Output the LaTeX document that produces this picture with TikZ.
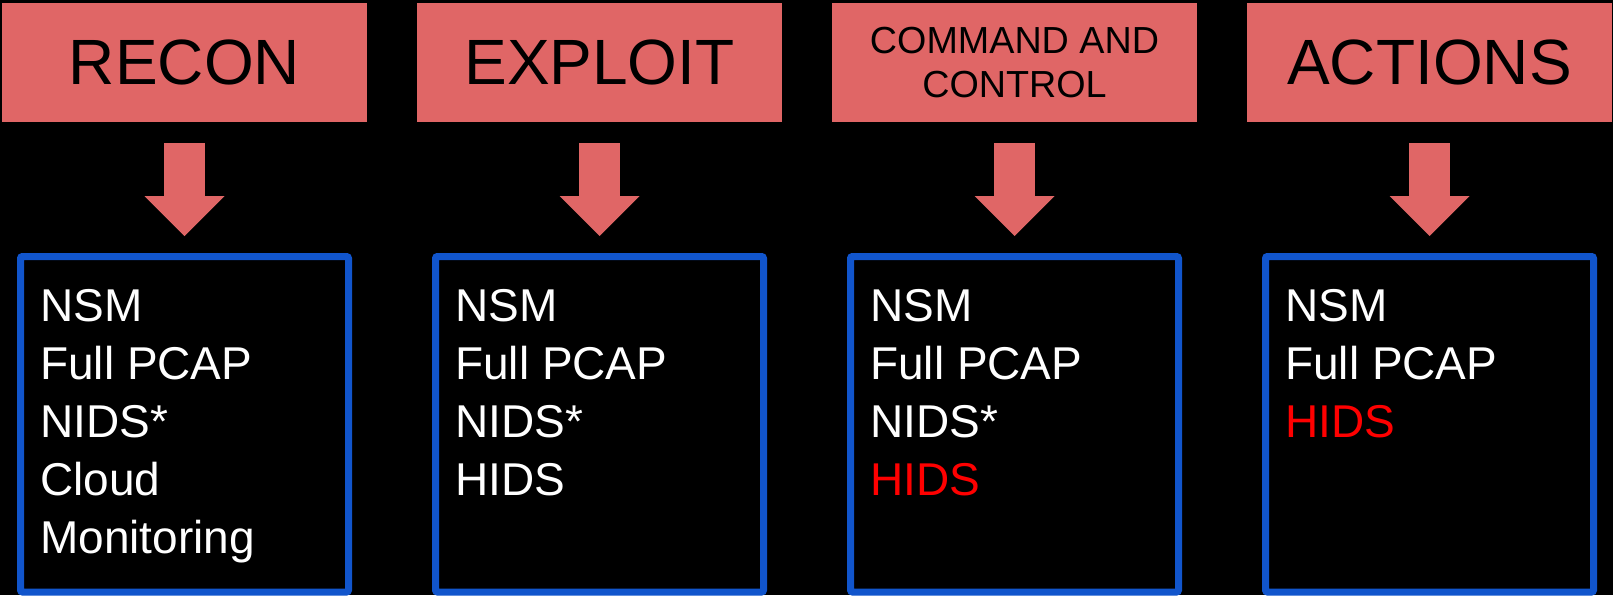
\documentclass[tikz,border=0pt]{standalone}
\usepackage{fontspec}
\setmainfont{Liberation Sans}
\usetikzlibrary{arrows.meta}

\definecolor{phasered}{HTML}{E06666}
\definecolor{toolblue}{HTML}{1155CC}
\definecolor{hidsred}{HTML}{FF0000}

\tikzset{
  phase/.style={fill=phasered, minimum width=365pt, minimum height=119pt,
    inner sep=0pt, align=center, font=\fontsize{64}{77}\selectfont},
  toolbox/.style={draw=toolblue, line width=7pt, rounded corners=2pt,
    minimum width=328pt, minimum height=335.5pt, inner sep=0pt},
  toollist/.style={text=white, align=left, anchor=base west, inner sep=0pt,
    font=\fontsize{46}{58}\selectfont},
  bigarrow/.style={phasered, line width=41pt, shorten <=21pt, shorten >=17pt,
    -{Triangle[width=80pt,length=40pt,line width=0pt]}}
}

\begin{document}
\begin{tikzpicture}[x=1pt,y=-1pt]
  \fill[black] (0,0) rectangle (1613,595);
  \useasboundingbox (0,0) rectangle (1613,595);

  % phases
  \node[phase] (recon) at (184.5,62.5) {RECON};
  \node[phase] (exploit) at (599.5,62.5) {EXPLOIT};
  \node[phase, font=\fontsize{37.7}{44}\selectfont] (cnc) at (1014.5,62.5) {COMMAND AND\\CONTROL};
  \node[phase] (actions) at (1429.5,62.5) {ACTIONS};

  % tool boxes
  \node[toolbox] (reconbox) at (184.5,424.25) {};
  \node[toolbox] (exploitbox) at (599.5,424.25) {};
  \node[toolbox] (cncbox) at (1014.5,424.25) {};
  \node[toolbox] (actionsbox) at (1429.5,424.25) {};

  \foreach \p in {recon,exploit,cnc,actions}
    \draw[bigarrow] (\p.south) -- (\p box.north);

  % anchored at the baseline of the last line
  \node[toollist] (recontools) at (40,553) {NSM\\Full PCAP\\NIDS*\\Cloud\\Monitoring};
  \node[toollist] (exploittools) at (455,495) {NSM\\Full PCAP\\NIDS*\\HIDS};
  \node[toollist] (cnctools) at (870,495) {NSM\\Full PCAP\\NIDS*\\\textcolor{hidsred}{HIDS}};
  \node[toollist] (actionstools) at (1285,437) {NSM\\Full PCAP\\\textcolor{hidsred}{HIDS}};
\end{tikzpicture}
\end{document}
